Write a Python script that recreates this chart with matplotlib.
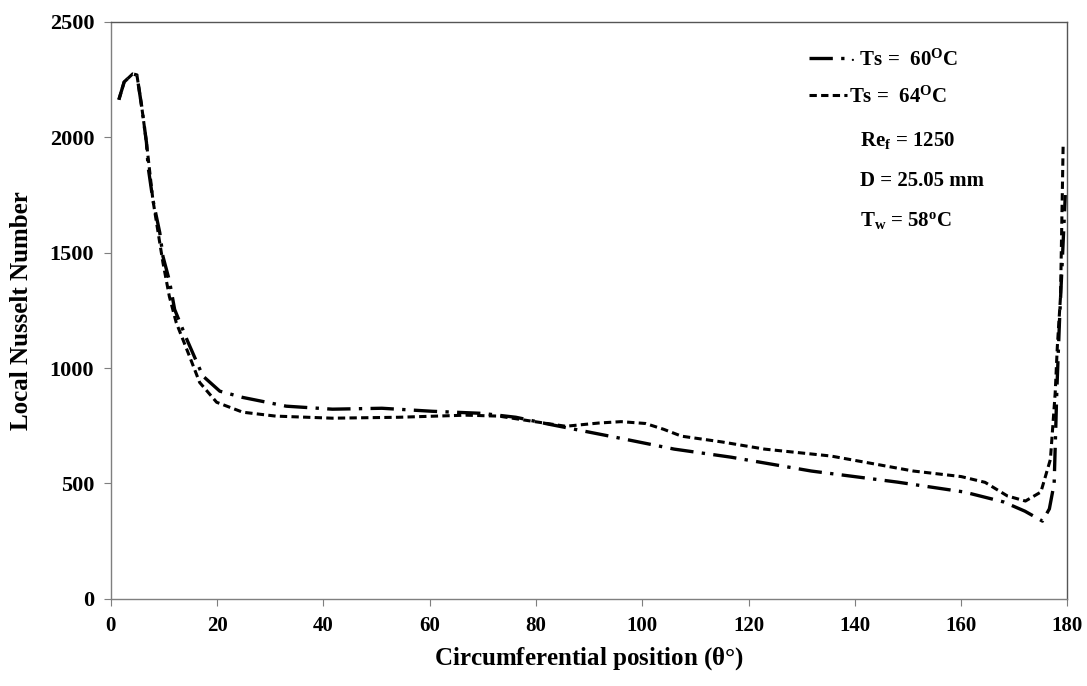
import numpy as np
import matplotlib
matplotlib.use("Agg")
import matplotlib.pyplot as plt

plt.rcParams["font.family"] = "Liberation Serif"
plt.rcParams["font.weight"] = "bold"
plt.rcParams["mathtext.fontset"] = "custom"
plt.rcParams["mathtext.rm"] = "Liberation Serif:bold"
plt.rcParams["mathtext.bf"] = "Liberation Serif:bold"
plt.rcParams["mathtext.it"] = "Liberation Serif:bold:italic"

# Ts = 60 C (dash-dot)
theta_60 = [1.5, 2.5, 4.1, 4.9, 5.8, 6.7, 7.0, 7.9, 9.2, 9.8, 11, 12, 14.3, 17.3, 20.5,
            24.8, 33, 41.7, 51, 60.4, 69.8, 76.2, 82.4, 95, 106, 116.7, 131.8, 148,
            160.6, 168, 172, 175.3, 176.6, 177.5, 178, 178.5, 179, 179.6]
nu_60 = [2163, 2240, 2275, 2270, 2133, 1977, 1873, 1730, 1587, 1484, 1380, 1254, 1124, 966, 900,
         873, 835, 822, 826, 813, 804, 787, 757, 700, 649, 614, 554, 506,
         463, 420, 380, 337, 390, 500, 900, 1200, 1450, 1750]

# Ts = 64 C (dashed)
theta_64 = [1.5, 2.5, 4.1, 4.9, 5.8, 6.7, 7.9, 9.8, 11, 12.3, 14.8, 16.7, 19.9, 24.8, 31,
            41.7, 54.2, 66.8, 73, 79.2, 85.6, 91.8, 96, 100.6, 104, 107.4, 115, 123, 135.5, 151,
            160, 164.5, 168.7, 172.1, 175, 176.8, 177.7, 178.1, 178.7, 179.2]
nu_64 = [2163, 2240, 2275, 2270, 2133, 1977, 1730, 1457, 1311, 1197, 1051, 938, 852, 809, 792,
         783, 787, 796, 792, 770, 748, 762, 768, 760, 735, 705, 680, 649, 619, 554,
         530, 505, 446, 424, 463, 605, 894, 1094, 1311, 1977]

x_ticks = [0, 20, 40, 60, 80, 100, 120, 140, 160, 180]
y_ticks = [0, 500, 1000, 1500, 2000, 2500]

fig = plt.figure(figsize=(10.87, 6.86), dpi=100)
ax = fig.add_axes([0.102, 0.127, 0.880, 0.841])

ax.plot(theta_60, nu_60, color="black", lw=2.4, linestyle=(0, (7, 2.5, 1, 2.5)),
        label=r"$\cdot$ Ts =  60$^{\mathrm{O}}$C")
ax.plot(theta_64, nu_64, color="black", lw=2.2, linestyle=(0, (2.4, 1.4)),
        label=r"Ts =  64$^{\mathrm{O}}$C")

ax.set_xlim(0, 180)
ax.set_ylim(0, 2500)
ax.set_xticks(x_ticks)
ax.set_yticks(y_ticks)
for s in ax.spines.values():
    s.set_color("#7f7f7f")
    s.set_linewidth(1.0)
ax.spines["top"].set_color("#555555")
ax.spines["right"].set_color("#555555")
ax.tick_params(direction="out", length=5, color="#7f7f7f", labelsize=16, pad=7)
ax.tick_params(axis="x", labelsize=15)
for lab in ax.get_xticklabels() + ax.get_yticklabels():
    lab.set_fontweight("bold")

ax.set_xlabel(r"Circumferential position $\mathregular{(\theta°)}$", fontsize=18,
              fontweight="bold", labelpad=7)
ax.set_ylabel("Local Nusselt Number", fontsize=18, fontweight="bold", labelpad=12)

leg = ax.legend(loc="upper right", bbox_to_anchor=(0.905, 0.985), frameon=False,
                fontsize=15, handlelength=1.8, handletextpad=0.1, labelspacing=0.75)

info = [r"Re$_{\mathrm{f}}$ = 1250", "D = 25.05 mm", r"T$_{\mathrm{w}}$ = 58$^{\mathrm{o}}$C"]
for i, t in enumerate(info):
    ax.text(0.783, 0.795 - i * 0.07, t, transform=ax.transAxes, fontsize=15,
            fontweight="bold", va="center", ha="left")

fig.savefig("out.png", dpi=100)
